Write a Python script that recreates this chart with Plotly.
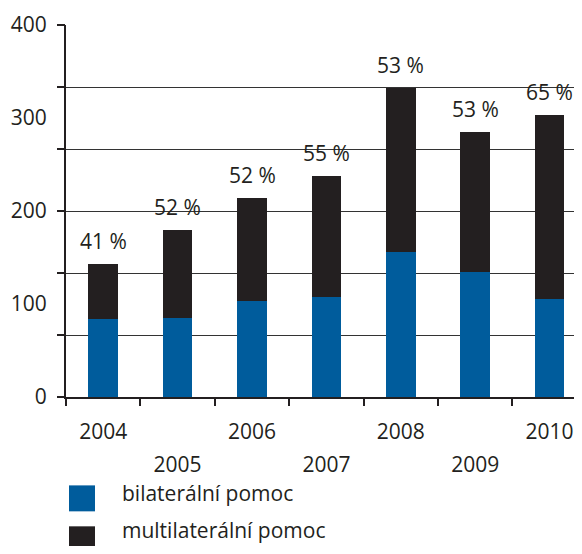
import plotly.graph_objects as go

# ---- data ----
years = ["2004", "2005", "2006", "2007", "2008", "2009", "2010"]
bilateral = [84, 85, 103, 108, 156, 134, 105]
multilateral = [59, 95, 111, 130, 176, 151, 198]
share_labels = ["41 %", "52 %", "52 %", "55 %", "53 %", "53 %", "65 %"]
y_tick_values = [0, 100, 200, 300, 400]
series_names = ["bilaterální pomoc", "multilaterální pomoc"]

BLUE = "#005C9C"
DARK = "#231F20"
FONT = "Open Sans"

# the page body keeps its 8px default margin; size the figure so the page
# does not overflow the 582x554 window (no scrollbars)
OFF = 8
W, H = 582 - 2 * OFF, 554 - 2 * OFF
ML, MR, MT = 58, 0, 17
MB = H - (397.5 - OFF)
PW, PH = W - ML - MR, H - MT - MB
CAT_PX = 74.4
X_RANGE = [-0.5, -0.5 + PW / CAT_PX]

def px_x(p):
    return (p - OFF - ML) / PW

def px_y(p):
    return (H - MB - (p - OFF)) / PH

totals = [b + m for b, m in zip(bilateral, multilateral)]
idx = list(range(len(years)))
even = idx[0::2]
odd = idx[1::2]

fig = go.Figure()
fig.add_trace(go.Bar(x=years, y=bilateral, name=series_names[0],
                     marker=dict(color=BLUE, line=dict(width=0)), width=0.4))
fig.add_trace(go.Bar(x=years, y=multilateral, name=series_names[1],
                     marker=dict(color=DARK, line=dict(width=0)), width=0.4))

for i, tot, lab in zip(idx, totals, share_labels):
    fig.add_annotation(x=i, y=tot, text=lab, showarrow=False, xref="x", yref="y",
                       yanchor="bottom", yshift=7,
                       font=dict(family=FONT, size=21, color=DARK))

tick_font = dict(family=FONT, size=21, color=DARK)
fig.update_layout(
    width=W, height=H, barmode="stack", showlegend=False,
    margin=dict(l=ML, r=MR, t=MT, b=MB, pad=0, autoexpand=False),
    plot_bgcolor="white", paper_bgcolor="white",
    font=dict(family=FONT, color=DARK),
    xaxis=dict(type="category", range=X_RANGE, tickson="boundaries",
               ticks="outside", ticklen=7, tickwidth=1.5, tickcolor=DARK,
               showticklabels=False, showline=True, linecolor=DARK, linewidth=2,
               showgrid=False, zeroline=False, automargin=False),
    xaxis2=dict(overlaying="x", anchor="y", side="bottom", range=X_RANGE,
                tickvals=even, ticktext=[years[i] for i in even], ticks="",
                showline=False, showgrid=False, zeroline=False, automargin=False,
                ticklabeloverflow="allow", ticklabelstandoff=20, tickfont=tick_font),
    xaxis3=dict(overlaying="x", anchor="y", side="bottom", range=X_RANGE,
                tickvals=odd, ticktext=[years[i] for i in odd], ticks="",
                showline=False, showgrid=False, zeroline=False, automargin=False,
                ticklabeloverflow="allow", ticklabelstandoff=53, tickfont=tick_font),
    yaxis=dict(range=[0, 400], tickvals=y_tick_values, ticks="", showgrid=False,
               showline=True, linecolor=DARK, linewidth=2, zeroline=False,
               automargin=False, ticklabelstandoff=13, tickfont=tick_font),
    yaxis2=dict(overlaying="y", anchor="x", side="left", range=[0, 400],
                tickvals=[400 * i / 6 for i in range(7)], showticklabels=False,
                ticks="outside", ticklen=8, tickwidth=1.5, tickcolor=DARK,
                showgrid=True, gridcolor="#333333", gridwidth=1.4,
                showline=False, zeroline=False, automargin=False),
)

# invisible traces to activate overlay axes
fig.add_trace(go.Scatter(x=[], y=[], xaxis="x2", yaxis="y2", showlegend=False, hoverinfo="skip"))
fig.add_trace(go.Scatter(x=[], y=[], xaxis="x3", yaxis="y2", showlegend=False, hoverinfo="skip"))

# legend with large square swatches
legend_rows = [(486, 494, BLUE, series_names[0]), (527, 531, DARK, series_names[1])]
for top, text_mid, col, name in legend_rows:
    fig.add_shape(type="rect", xref="paper", yref="paper",
                  x0=px_x(69), x1=px_x(95), y0=px_y(top + 26), y1=px_y(top),
                  fillcolor=col, line=dict(width=0))
    fig.add_annotation(xref="paper", yref="paper", x=px_x(120), y=px_y(text_mid),
                       xanchor="left", yanchor="middle", text=name, showarrow=False,
                       font=dict(family=FONT, size=21, color=DARK))

fig.write_html("out.html")
